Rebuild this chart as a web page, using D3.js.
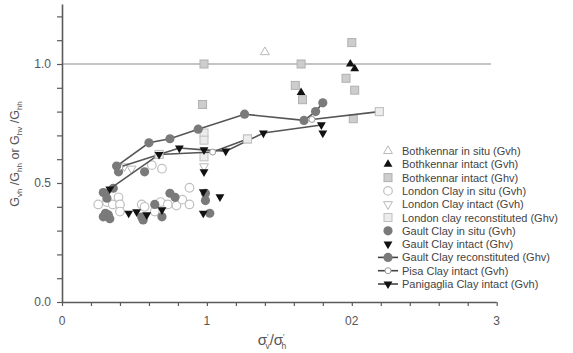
<!DOCTYPE html>
<html><head><meta charset="utf-8">
<script src="https://cdn.jsdelivr.net/npm/d3@7"></script>
<style>body{margin:0;background:#fff}svg{display:block;font-family:"Liberation Sans",Arial,sans-serif}</style>
</head><body><svg id="c" width="573" height="353"></svg>
<script>
// ---- data (x = σ'v/σ'h, y = G ratio) ----
const xTickValues = [0, 1, 2, 3];
const xTickLabels = ["0", "1", "02", "3"];
const yTickValues = [0, 0.5, 1.0];
const yTickLabels = ["0.0", "0.5", "1.0"];

const bothkennarInSitu = [[1.40, 1.05]];
const bothkennarIntactGvh = [[1.65, 0.88], [1.99, 1.00], [2.02, 0.98]];
const bothkennarIntactGhv = [[0.98, 1.00], [1.65, 1.00], [2.00, 1.09], [1.96, 0.94], [2.02, 0.89], [1.61, 0.91], [1.66, 0.85], [2.01, 0.77], [0.97, 0.83]];
const londonInSitu = [[0.25, 0.41], [0.31, 0.42], [0.35, 0.41], [0.39, 0.44], [0.40, 0.41], [0.40, 0.38], [0.55, 0.41], [0.57, 0.40], [0.68, 0.42], [0.73, 0.41], [0.79, 0.405], [0.83, 0.43], [0.88, 0.41], [0.88, 0.48], [0.62, 0.575], [0.69, 0.56], [0.64, 0.38]];
const londonIntact = [[0.43, 0.57], [0.48, 0.56], [0.98, 0.57]];
const londonRecon = [[0.98, 0.71], [0.98, 0.68], [0.98, 0.61], [0.67, 0.62], [1.28, 0.685], [2.19, 0.80]];
const gaultInSitu = [[0.30, 0.457], [0.31, 0.436], [0.285, 0.46], [0.354, 0.478], [0.30, 0.373], [0.32, 0.366], [0.285, 0.358], [0.33, 0.35], [0.55, 0.357], [0.56, 0.345], [0.64, 0.41], [0.69, 0.358], [0.745, 0.457], [0.78, 0.44], [0.99, 0.457], [0.99, 0.426], [1.02, 0.373], [0.39, 0.547], [0.57, 0.547]];
const gaultIntact = [[0.46, 0.373], [0.515, 0.379], [0.585, 0.366], [0.69, 0.387], [0.975, 0.463], [0.975, 0.373], [1.09, 0.442], [0.98, 0.547], [1.80, 0.71]];
const gaultRecon = [[0.377, 0.571], [0.60, 0.669], [0.745, 0.686], [0.94, 0.726], [1.26, 0.789], [1.67, 0.763], [1.75, 0.80], [1.80, 0.837]];
const pisaIntact = [[0.40, 0.567], [0.67, 0.62], [1.04, 0.63], [1.28, 0.685], null, [1.725, 0.767], [2.19, 0.80]];
const panigagliaIntact = [[0.33, 0.475], [0.67, 0.62], [0.81, 0.647], [0.98, 0.639], [1.13, 0.634], [1.39, 0.71], [1.79, 0.744]];

const legendItems = [
  ["Bothkennar in situ (Gvh)", "triUpOpen", false],
  ["Bothkennar intact (Gvh)", "triUpBlack", false],
  ["Bothkennar intact (Ghv)", "squareGray", false],
  ["London Clay in situ (Gvh)", "circleOpen", false],
  ["London Clay intact (Gvh)", "triDownOpen", false],
  ["London clay reconstituted (Ghv)", "squareOpen", false],
  ["Gault Clay in situ (Gvh)", "circleGray", false],
  ["Gault Clay intact (Ghv)", "triDownBlack", false],
  ["Gault Clay reconstituted (Ghv)", "circleGray", true],
  ["Pisa Clay intact (Gvh)", "circleOpenSmall", true],
  ["Panigaglia Clay intact (Gvh)", "triDownBlack", true]
];

// ---- drawing ----
const svg = d3.select("#c");
const x = d3.scaleLinear().domain([0, 3]).range([62, 496.7]);
const y = d3.scaleLinear().domain([0, 1.25]).range([302, 4.5]);
const axisCol = "#5a5a5a";

// reference line y = 1
svg.append("line").attr("x1", x(0)).attr("x2", x(2.96)).attr("y1", y(1)).attr("y2", y(1))
  .attr("stroke", "#8a8a8a").attr("stroke-width", 1.2);

// axes
const xAxis = d3.axisBottom(x).tickValues(d3.range(0, 3.01, 0.2)).tickSize(4).tickFormat("");
const gx = svg.append("g").attr("transform", `translate(0,${y(0)})`).call(xAxis);
const yAxis = d3.axisLeft(y).tickValues(d3.range(0, 1.21, 0.1)).tickSize(5).tickFormat("");
const gy = svg.append("g").attr("transform", `translate(${x(0)},0)`).call(yAxis);
[gx, gy].forEach(g => {
  g.select(".domain").attr("stroke", axisCol).attr("stroke-width", 1.6);
  g.selectAll(".tick line").attr("stroke", axisCol).attr("stroke-width", 1.2);
});
gx.select(".domain").attr("d", `M${x(0)},0.5H${x(3)}`);
gy.select(".domain").attr("d", `M0.5,${y(0)}V${y(1.25)}`);

svg.selectAll(".xl").data(xTickValues).enter().append("text")
  .attr("x", d => x(d)).attr("y", 325).attr("text-anchor", "middle")
  .attr("font-size", 12).attr("fill", "#555").text((d, i) => xTickLabels[i]);
svg.selectAll(".yl").data(yTickValues).enter().append("text")
  .attr("x", 51).attr("y", d => y(d) + 4).attr("text-anchor", "end")
  .attr("font-size", 12).attr("fill", "#555").text((d, i) => yTickLabels[i]);

// axis titles
const yt = svg.append("text").attr("transform", "translate(19,154) rotate(-90)")
  .attr("text-anchor", "middle").attr("font-size", 12.5).attr("fill", "#555");
[["G", 0], ["vh", 1], [" /G", 0], ["hh", 1], [" or G", 0], ["hv", 1], [" /G", 0], ["hh", 1]].forEach(([t, s]) => {
  yt.append("tspan").attr("font-size", s ? 8 : 12.5).attr("baseline-shift", s ? "-3" : "0").text(t);
});
const xt = svg.append("text").attr("x", 272).attr("y", 345).attr("text-anchor", "middle")
  .attr("font-size", 15).attr("fill", "#555");
xt.append("tspan").text("σ");
xt.append("tspan").attr("font-size", 8).attr("dy", -6).text("′");
xt.append("tspan").attr("font-size", 8.5).attr("dx", -3).attr("dy", 10).text("v");
xt.append("tspan").attr("dy", -4).text("/σ");
xt.append("tspan").attr("font-size", 8).attr("dy", -6).text("′");
xt.append("tspan").attr("font-size", 8.5).attr("dx", -3).attr("dy", 10).text("h");

// marker painter
const triUp = d3.symbol(d3.symbolTriangle, 34)();
function marker(g, type, cx, cy) {
  const t = `translate(${cx},${cy})`;
  switch (type) {
    case "triUpOpen": g.append("path").attr("d", triUp).attr("transform", t).attr("fill", "#fff").attr("stroke", "#b8b8b8").attr("stroke-width", 1); break;
    case "triUpBlack": g.append("path").attr("d", triUp).attr("transform", t).attr("fill", "#111"); break;
    case "triDownOpen": g.append("path").attr("d", triUp).attr("transform", t + " rotate(180)").attr("fill", "#fff").attr("stroke", "#b8b8b8").attr("stroke-width", 1); break;
    case "triDownBlack": g.append("path").attr("d", triUp).attr("transform", t + " rotate(180)").attr("fill", "#111"); break;
    case "squareGray": g.append("rect").attr("x", cx - 4).attr("y", cy - 4).attr("width", 8).attr("height", 8).attr("fill", "#cdcdcd").attr("stroke", "#b0b0b0"); break;
    case "squareOpen": g.append("rect").attr("x", cx - 4).attr("y", cy - 4).attr("width", 8).attr("height", 8).attr("fill", "#ececec").attr("stroke", "#c0c0c0"); break;
    case "circleOpen": g.append("circle").attr("cx", cx).attr("cy", cy).attr("r", 4.3).attr("fill", "#fff").attr("stroke", "#c0c0c0").attr("stroke-width", 1.2); break;
    case "circleOpenSmall": g.append("circle").attr("cx", cx).attr("cy", cy).attr("r", 3).attr("fill", "#fff").attr("stroke", "#9a9a9a").attr("stroke-width", 1); break;
    case "circleGray": g.append("circle").attr("cx", cx).attr("cy", cy).attr("r", 4.6).attr("fill", "#7a7a7a"); break;
  }
}
const plot = svg.append("g");
function scatter(data, type) { data.forEach(d => marker(plot, type, x(d[0]), y(d[1]))); }

scatter(bothkennarIntactGhv, "squareGray");
scatter(londonRecon, "squareOpen");
scatter(londonInSitu, "circleOpen");
scatter(londonIntact, "triDownOpen");
scatter(bothkennarInSitu, "triUpOpen");
scatter(gaultInSitu, "circleGray");
scatter(gaultIntact, "triDownBlack");
scatter(bothkennarIntactGvh, "triUpBlack");

const line = d3.line().defined(d => d !== null).x(d => x(d[0])).y(d => y(d[1]));
[pisaIntact, panigagliaIntact, gaultRecon].forEach(s => {
  plot.append("path").attr("d", line(s)).attr("fill", "none").attr("stroke", "#555").attr("stroke-width", 1.6);
});
scatter(pisaIntact.filter(d => d), "circleOpenSmall");
scatter(londonRecon.slice(3), "squareOpen");
scatter(panigagliaIntact, "triDownBlack");
scatter(gaultRecon, "circleGray");

// legend
const lg = svg.append("g");
legendItems.forEach((it, i) => {
  const ly = 151 + i * 13.3;
  if (it[2]) lg.append("line").attr("x1", 378).attr("x2", 398).attr("y1", ly).attr("y2", ly).attr("stroke", "#444").attr("stroke-width", 1.6);
  marker(lg, it[1], 388, ly);
  lg.append("text").attr("x", 402).attr("y", ly + 4).attr("font-size", 11).attr("fill", "#444").text(it[0]);
});
</script></body></html>
